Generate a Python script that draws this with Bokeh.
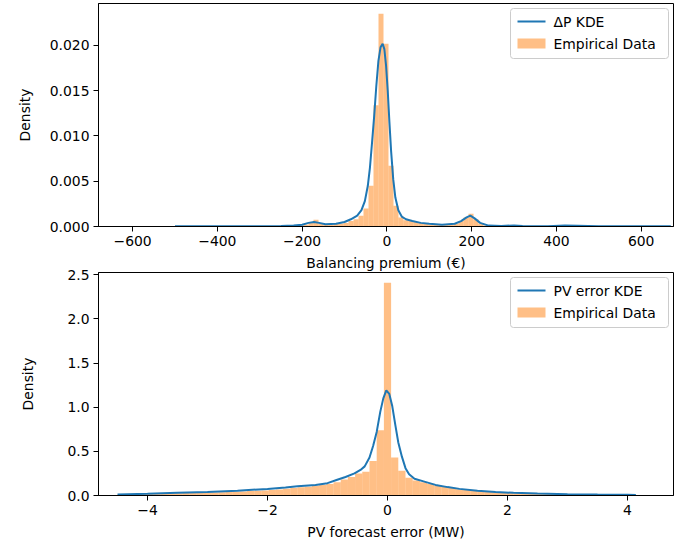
from bokeh.plotting import figure
from bokeh.layouts import column
from bokeh.models import (FixedTicker, PrintfTickFormatter, Range1d,
                          BoxAnnotation, Label)
from bokeh.embed import file_html
from bokeh.resources import INLINE

# ---------------- data: balancing premium (top panel) ----------------
bp_kde_x = [-500, -400, -300, -250, -220, -200, -185, -172, -160, -145, -120,
            -100, -85, -70, -60, -52, -45, -40, -35, -30, -25, -20, -15, -10,
            -6, -2, 2, 6, 10, 15, 20, 27, 35, 45, 60, 80, 100, 130, 160, 175,
            188, 197, 207, 220, 240, 270, 300, 320, 380, 420, 450, 500, 600, 670]
bp_kde_y = [0.00002, 0.00002, 0.00003, 0.00005, 0.0001, 0.0002, 0.0004, 0.00050,
            0.0004, 0.00025, 0.0003, 0.0005, 0.0008, 0.0012, 0.0018, 0.0028,
            0.0045, 0.0065, 0.0093, 0.0122, 0.0155, 0.0183, 0.0198, 0.0202,
            0.0196, 0.0178, 0.0150, 0.0115, 0.0083, 0.0052, 0.0032, 0.0018,
            0.0011, 0.0008, 0.0006, 0.0004, 0.0003, 0.0002, 0.0003, 0.0006,
            0.0010, 0.0012, 0.0009, 0.0004, 0.0001, 0.00005, 0.00012, 0.00005,
            0.00004, 0.0001, 0.00008, 0.00003, 0.00002, 0.00002]
bp_bin_start = -208.6
bp_bin_width = 11.8
bp_hist = [0.0001, 0.0002, 0.0004, 0.00074, 0.0003, 0.0002, 0.0002, 0.0003,
           0.0003, 0.0004, 0.0006, 0.0008, 0.0012, 0.0020, 0.0045, 0.0134,
           0.0235, 0.0202, 0.0067, 0.0023, 0.0010, 0.0007, 0.0006, 0.0005,
           0.0004, 0.0003, 0.0002, 0.0002, 0.0002, 0.0002, 0.0002, 0.0003,
           0.0006, 0.0010, 0.0014, 0.0008, 0.0003, 0.0001]

# ---------------- data: PV forecast error (bottom panel) ----------------
pv_kde_x = [-4.50, -4.0, -3.5, -3.0, -2.5, -2.0, -1.7, -1.5, -1.2, -1.0, -0.85,
            -0.7, -0.55, -0.45, -0.38, -0.3, -0.24, -0.18, -0.12, -0.07, -0.02,
            0.03, 0.08, 0.13, 0.18, 0.24, 0.30, 0.36, 0.45, 0.6, 0.8, 1.0, 1.2,
            1.5, 1.8, 2.1, 2.5, 3.0, 3.5, 4.0, 4.14]
pv_kde_y = [0.012, 0.02, 0.03, 0.04, 0.055, 0.075, 0.09, 0.105, 0.12, 0.14,
            0.175, 0.21, 0.25, 0.29, 0.33, 0.43, 0.56, 0.72, 0.95, 1.10, 1.19,
            1.15, 1.01, 0.80, 0.60, 0.44, 0.31, 0.24, 0.19, 0.16, 0.12, 0.095,
            0.075, 0.055, 0.04, 0.03, 0.022, 0.015, 0.011, 0.008, 0.007]
pv_bin_start = -4.50
pv_bin_width = 0.12
pv_hist = [0.010, 0.012, 0.015, 0.016, 0.018, 0.020, 0.021, 0.023, 0.025, 0.027,
           0.028, 0.030, 0.033, 0.035, 0.038, 0.040, 0.043, 0.046, 0.050, 0.054,
           0.058, 0.063, 0.068, 0.076, 0.085, 0.094, 0.10, 0.11, 0.12, 0.13,
           0.15, 0.18, 0.21,
           0.25, 0.27, 0.39, 0.74, 2.41, 0.43, 0.28, 0.20, 0.17,
           0.15, 0.13, 0.11, 0.095, 0.085, 0.072, 0.064, 0.056, 0.048, 0.042,
           0.037, 0.033, 0.029, 0.026, 0.023, 0.021, 0.019, 0.017, 0.016, 0.015,
           0.014, 0.013, 0.012, 0.011, 0.010, 0.009, 0.009, 0.008, 0.008, 0.007]

bp_xticks = [-600, -400, -200, 0, 200, 400, 600]
bp_yticks = [0, 0.005, 0.010, 0.015, 0.020]
pv_xticks = [-4, -2, 0, 2, 4]
pv_yticks = [0, 0.5, 1.0, 1.5, 2.0, 2.5]

BLUE = "#1f77b4"
ORANGE = "#ff7f0e"
FONT = "DejaVu Sans"
FS = "13.9px"
FRAME_W = 575

# legend geometry in pixels, relative to the frame's top-right corner
LEG_MARGIN, LEG_W, LEG_H = 5, 158, 50
ROW1, ROW2 = 13, 35
GLYPH_X0, GLYPH_W, TEXT_X = 7, 28, 43
PATCH_H, LINE_H = 10, 2


def add_legend(p, xr, yr, fh, kde_label):
    ux = (xr[1] - xr[0]) / FRAME_W      # data units per pixel (x)
    uy = (yr[1] - yr[0]) / fh           # data units per pixel (y)

    def X(px_from_right):
        return xr[1] - px_from_right * ux

    def Y(px_from_top):
        return yr[1] - px_from_top * uy

    box_l = LEG_MARGIN + LEG_W          # pixels from frame right
    p.add_layout(BoxAnnotation(left=X(box_l), right=X(LEG_MARGIN),
                               top=Y(LEG_MARGIN), bottom=Y(LEG_MARGIN + LEG_H),
                               fill_color="white", fill_alpha=0.8,
                               line_color="#cccccc", line_width=1,
                               line_alpha=1.0, border_radius=3))
    g0 = box_l - GLYPH_X0
    g1 = g0 - GLYPH_W
    r1 = LEG_MARGIN + ROW1
    r2 = LEG_MARGIN + ROW2
    p.add_layout(BoxAnnotation(left=X(g0), right=X(g1),
                               top=Y(r1 - LINE_H / 2), bottom=Y(r1 + LINE_H / 2),
                               fill_color=BLUE, fill_alpha=1.0, line_color=None))
    p.add_layout(BoxAnnotation(left=X(g0), right=X(g1),
                               top=Y(r2 - PATCH_H / 2),
                               bottom=Y(r2 + PATCH_H / 2),
                               fill_color=ORANGE, fill_alpha=0.5, line_color=None))
    for txt, r in ((kde_label, r1), ("Empirical Data", r2)):
        p.add_layout(Label(x=X(box_l - TEXT_X), y=Y(r), text=txt,
                           text_baseline="middle", text_align="left",
                           text_font=FONT, text_font_size=FS,
                           text_color="black"))


def make_panel(kx, ky, bstart, bwidth, hist, xr, yr, xticks, yticks, yfmt,
               kde_label, fh, top_border, bottom_border, ylabel_standoff):
    p = figure(output_backend="svg", toolbar_location=None,
               frame_width=FRAME_W, frame_height=fh,
               x_range=Range1d(*xr), y_range=Range1d(*yr),
               min_border_left=98, min_border_right=8,
               min_border_top=top_border, min_border_bottom=bottom_border)
    lefts = [bstart + i * bwidth for i in range(len(hist))]
    rights = [l + bwidth for l in lefts]
    p.quad(left=lefts, right=rights, top=hist, bottom=0,
           fill_color=ORANGE, fill_alpha=0.5, line_color=None)
    p.line(kx, ky, line_color=BLUE, line_width=2)
    p.grid.visible = False
    p.outline_line_color = "black"
    p.outline_line_width = 1
    p.background_fill_color = "white"
    for ax in (p.xaxis[0], p.yaxis[0]):
        ax.axis_line_color = "black"
        ax.major_tick_line_color = "black"
        ax.minor_tick_line_color = None
        ax.major_tick_out = 5
        ax.major_tick_in = 0
        ax.major_label_text_font = FONT
        ax.major_label_text_font_size = FS
        ax.major_label_text_color = "black"
        ax.axis_label_text_font = FONT
        ax.axis_label_text_font_size = FS
        ax.axis_label_text_font_style = "normal"
        ax.axis_label_text_color = "black"
        ax.major_label_standoff = 4
    p.xaxis[0].ticker = FixedTicker(ticks=xticks)
    p.xaxis[0].major_label_overrides = {
        t: (str(t).replace("-", "\u2212")) for t in xticks}
    p.xaxis[0].axis_label_standoff = 6
    p.yaxis[0].ticker = FixedTicker(ticks=yticks)
    p.yaxis[0].formatter = PrintfTickFormatter(format=yfmt)
    p.yaxis[0].axis_label = "Density"
    p.yaxis[0].axis_label_standoff = ylabel_standoff
    add_legend(p, xr, yr, fh, kde_label)
    return p


p1 = make_panel(bp_kde_x, bp_kde_y, bp_bin_start, bp_bin_width, bp_hist,
                (-680.5, 676.3), (0, 0.02464), bp_xticks, bp_yticks, "%.3f",
                "\u0394P KDE", 223, 3, 25, 14)
p2 = make_panel(pv_kde_x, pv_kde_y, pv_bin_start, pv_bin_width, pv_hist,
                (-4.817, 4.767), (0, 2.526), pv_xticks, pv_yticks, "%.1f",
                "PV error KDE", 223, 20, 0, 28)
p2.xaxis[0].axis_label = "PV forecast error (MW)"

# the upper panel's x-axis label sits in the band between the two panels
p2.title.text = "Balancing premium (\u20ac)"
p2.title.align = "center"
p2.title.text_font = FONT
p2.title.text_font_size = FS
p2.title.text_font_style = "normal"
p2.title.text_color = "black"
p2.title.standoff = 3
p2.title.offset = 0

layout = column(p1, p2, spacing=0)
open("out.html", "w").write(file_html(layout, INLINE))
